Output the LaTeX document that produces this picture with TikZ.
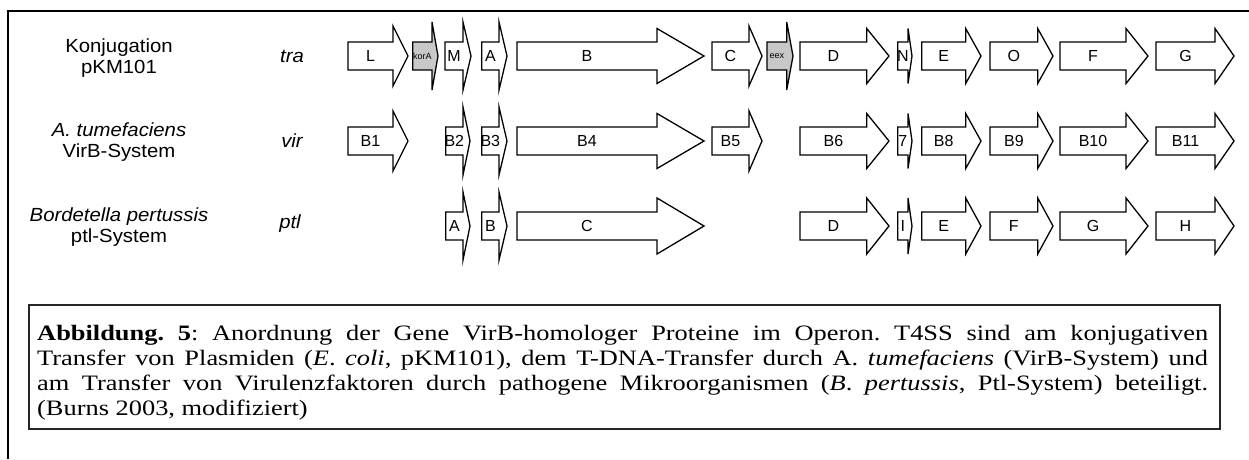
\documentclass[tikz,border=0pt]{standalone}
\usepackage{graphicx}
\usepackage{fontspec}
\setmainfont{Liberation Serif}
\newfontfamily\arialf{Liberation Sans}
\newfontfamily\arialw[FakeStretch=1.07]{Liberation Sans}
\newfontfamily\capfont{Liberation Serif}
\definecolor{genegray}{RGB}{200,200,200}
\newcommand\genearrow[9]{%
  \draw[genestyle, fill=#7] (#2,#5-14) -- (#3,#5-14) -- (#3,#5-#6) -- (#4,#5) -- (#3,#5+#6) -- (#3,#5+14) -- (#2,#5+14) -- cycle;
  \node[#8] (#1) at ({(#2+#3)/2},#5) {#9};
}
\begin{document}
\begin{tikzpicture}[x=1pt,y=-1pt,
  genestyle/.style={draw=black, line width=1.3pt, line join=miter},
  glabel/.style={font=\arialf\fontsize{16}{18}\selectfont, inner sep=0pt},
  slabel/.style={font=\arialf\fontsize{9}{10}\selectfont, inner sep=0pt},
  rowlabel/.style={font=\arialw\fontsize{19}{21}\selectfont, align=center, inner sep=0pt},
  ]
\useasboundingbox (0,0) rectangle (1249,459);
% outer frame (only top and left visible)
\draw[line width=2pt] (7.5,459) -- (7.5,11) -- (1249,11);

% row labels
\node[rowlabel] (konj) at (119,58) {Konjugation\\pKM101};
\node[rowlabel] (tra) at (292,56) {\itshape tra};
\node[rowlabel] (atum) at (119,142) {{\itshape A. tumefaciens}\\VirB-System};
\node[rowlabel] (vir) at (292,141) {\itshape vir};
\node[rowlabel] (bord) at (119,227) {{\itshape Bordetella pertussis}\\ptl-System};
\node[rowlabel] (ptl) at (290,224) {\itshape ptl};

% row 1: tra
\genearrow{traL}{348}{393}{408}{56}{30}{white}{glabel}{L}
\genearrow{korA}{412.7}{432}{438}{56}{34}{genegray}{slabel}{korA}
\genearrow{traM}{445}{463}{471}{56}{34}{white}{glabel}{M}
\genearrow{traA}{481.7}{499}{507}{56}{34}{white}{glabel}{A}
\genearrow{traB}{517}{657}{704}{56}{27.5}{white}{glabel}{B}
\genearrow{traC}{712}{749}{762}{56}{30}{white}{glabel}{C}
\genearrow{eex}{767}{786.7}{793}{56}{34}{genegray}{slabel}{eex}
\genearrow{traD}{800}{866.7}{889}{56}{27.5}{white}{glabel}{D}
\genearrow{traN}{897.7}{908}{912}{56}{27.5}{white}{glabel}{N}
\genearrow{traE}{921.7}{965.7}{981}{56}{27.5}{white}{glabel}{E}
\genearrow{traO}{990}{1037.7}{1053}{56}{27.5}{white}{glabel}{O}
\genearrow{traF}{1060}{1126}{1148}{56}{27.5}{white}{glabel}{F}
\genearrow{traG}{1156}{1215}{1234}{56}{27.5}{white}{glabel}{G}

% row 2: vir
\genearrow{virB1}{348}{393}{408}{141}{30}{white}{glabel}{B1}
\genearrow{virB2}{445.7}{463}{470}{141}{34}{white}{glabel}{B2}
\genearrow{virB3}{481.7}{499}{507}{141}{34}{white}{glabel}{B3}
\genearrow{virB4}{517}{657}{704}{141}{27.5}{white}{glabel}{B4}
\genearrow{virB5}{712}{749}{762}{141}{30}{white}{glabel}{B5}
\genearrow{virB6}{800}{866.7}{889}{141}{27.5}{white}{glabel}{B6}
\genearrow{virB7}{897.7}{908}{912}{141}{27.5}{white}{glabel}{7}
\genearrow{virB8}{921.7}{965.7}{981}{141}{27.5}{white}{glabel}{B8}
\genearrow{virB9}{990}{1037.7}{1053}{141}{27.5}{white}{glabel}{B9}
\genearrow{virB10}{1060}{1126}{1148}{141}{27.5}{white}{glabel}{B10}
\genearrow{virB11}{1156}{1215}{1234}{141}{27.5}{white}{glabel}{B11}

% row 3: ptl
\genearrow{ptlA}{445.7}{463}{470}{226}{34}{white}{glabel}{A}
\genearrow{ptlB}{481.7}{499}{507}{226}{34}{white}{glabel}{B}
\genearrow{ptlC}{517}{657}{704}{226}{28}{white}{glabel}{C}
\genearrow{ptlD}{800}{866.7}{889}{226}{28}{white}{glabel}{D}
\genearrow{ptlI}{897.7}{908}{912}{226}{28}{white}{glabel}{I}
\genearrow{ptlE}{921.7}{965.7}{981}{226}{28}{white}{glabel}{E}
\genearrow{ptlF}{990}{1037.7}{1053}{226}{28}{white}{glabel}{F}
\genearrow{ptlG}{1060}{1126}{1148}{226}{28}{white}{glabel}{G}
\genearrow{ptlH}{1156}{1215}{1234}{226}{28}{white}{glabel}{H}

% caption
\node[draw=black!85, line width=1.8pt, minimum width=1191pt, minimum height=124pt,
      anchor=north west, inner sep=0pt] (capbox) at (28,304) {};
\node[anchor=base west, inner sep=0pt] (cap) at (37,340)
 {\scalebox{1.2}[1]{\parbox[t]{975.8pt}{\capfont\fontsize{22}{25}\selectfont
  \tolerance=10000\hyphenpenalty=10000\parindent=0pt\frenchspacing
  \textbf{Abbildung. 5}: Anordnung der Gene VirB-homologer Proteine im Operon. T4SS sind am konjugativen\linebreak
  Transfer von Plasmiden (\textit{E}. \textit{coli}, pKM101), dem T-DNA-Transfer durch A. \textit{tumefaciens} (VirB-System) und\linebreak
  am Transfer von Virulenzfaktoren durch pathogene Mikroorganismen (\textit{B}. \textit{pertussis}, Ptl-System) beteiligt.\linebreak
  (Burns 2003, modifiziert)}}};
\end{tikzpicture}
\end{document}
